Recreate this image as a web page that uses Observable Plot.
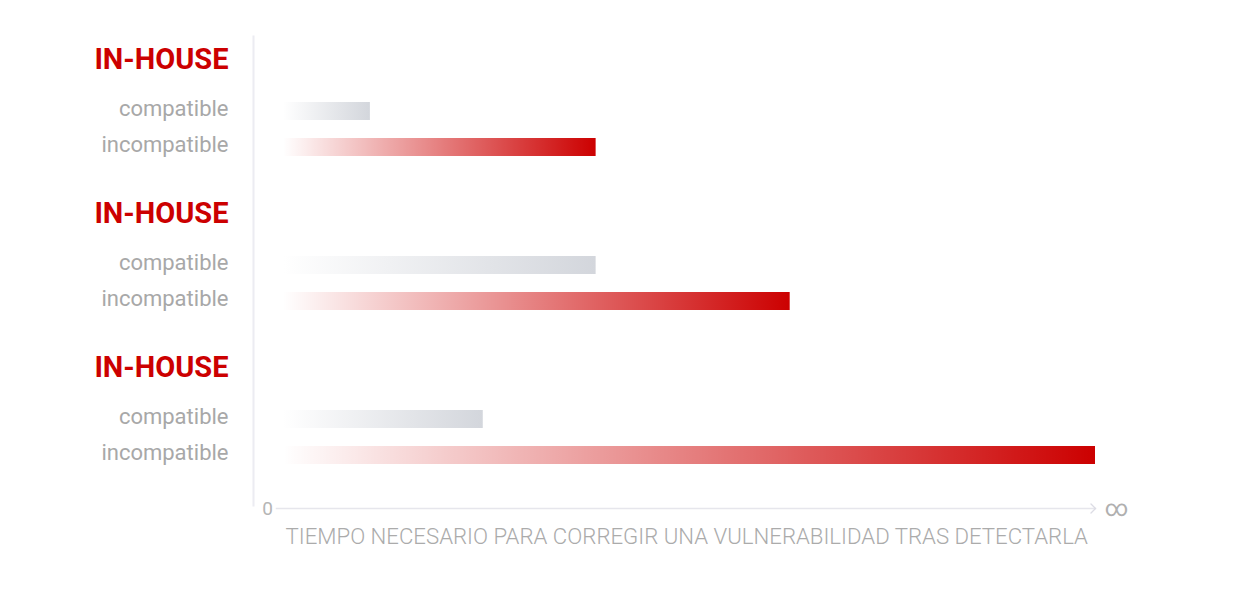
<!DOCTYPE html>
<html>
<head>
<meta charset="utf-8">
<script src="https://cdn.jsdelivr.net/npm/d3@7"></script>
<script src="https://cdn.jsdelivr.net/npm/@observablehq/plot@0.6"></script>
<style>
  html, body { margin: 0; padding: 0; background: #ffffff; }
  #chart svg { display: block; }
</style>
</head>
<body>
<div id="chart"></div>
<script>
// ---- data ----
const groupIds = ["g1", "g2", "g3"];
const groupLabels = ["IN-HOUSE", "IN-HOUSE", "IN-HOUSE"];
const rowTypes = ["compatible", "incompatible"];
const compatibleValues = [10.7, 38.5, 24.6];
const incompatibleValues = [38.5, 62.4, 100];
const xEndLabels = ["0", "∞"];
const xEndValues = [0, 100];
const axisTitle = "TIEMPO NECESARIO PARA CORREGIR UNA VULNERABILIDAD TRAS DETECTARLA";

// ---- tables ----
const groups = groupIds.map((id, i) => ({id, label: groupLabels[i]}));
const rows = [];
groupIds.forEach((g, i) => {
  rows.push({group: g, type: rowTypes[0], value: compatibleValues[i]});
  rows.push({group: g, type: rowTypes[1], value: incompatibleValues[i]});
});
const compatRows = rows.filter(d => d.type === rowTypes[0]);
const incompatRows = rows.filter(d => d.type === rowTypes[1]);
const lastGroup = groupIds[groupIds.length - 1];
const ends = xEndValues.map((v, i) => ({group: lastGroup, value: v, label: xEndLabels[i]}));

const chevron = {
  draw(context) {
    context.moveTo(-4.5, 4.5);
    context.lineTo(0, 0);
    context.lineTo(4.5, 4.5);
  }
};

const plot = Plot.plot({
  width: 1253,
  height: 611,
  marginLeft: 283,
  marginRight: 158,
  marginTop: 36,
  marginBottom: 103,
  style: {fontFamily: "Roboto, sans-serif", background: "#ffffff"},
  x: {domain: [0, 100], axis: null},
  fy: {domain: groupIds, range: [37, 499], padding: 0, axis: null},
  y: {domain: rowTypes, range: [91, 164.5], padding: 0, axis: null},
  marks: [
    // vertical separator line
    Plot.frame({anchor: "left", facet: "super", dx: -30, insetTop: -1, insetBottom: -6, stroke: "#ececf2", strokeWidth: 2}),
    // horizontal axis line
    Plot.frame({anchor: "bottom", facet: "super", dy: 9, insetLeft: -7, stroke: "#e6e6ec", strokeWidth: 1.5}),
    // arrow head (drawn in last facet, at the axis baseline)
    Plot.vector(ends.slice(1), {fy: "group", x: "value", frameAnchor: "bottom", dy: 9, shape: chevron, rotate: 90, anchor: "start", stroke: "#dcdce4", strokeWidth: 1.3}),
    // end labels
    Plot.text(ends.slice(0, 1), {fy: "group", x: "value", text: "label", frameAnchor: "bottom", dx: -16, dy: 9, lineAnchor: "middle", fill: "#b5b5b5", fontSize: 19}),
    Plot.text(ends.slice(1), {fy: "group", x: "value", text: "label", frameAnchor: "bottom", dx: 21, dy: 9, lineAnchor: "middle", fill: "#b0b0b0", fontSize: 23}),
    // axis title
    Plot.text([axisTitle], {text: d => d, frameAnchor: "bottom-left", facet: "super", dx: 2, dy: 37, textAnchor: "start", lineAnchor: "middle", fill: "#ababab", fontSize: 22.2, fontWeight: 300}),
    // group headers
    Plot.text(groups, {fy: "id", text: "label", frameAnchor: "top-left", dx: -55, dy: 22, textAnchor: "end", lineAnchor: "middle", fill: "#cc0000", fontSize: 29, fontWeight: 700}),
    // row labels
    Plot.text(rows, {fy: "group", y: "type", text: "type", frameAnchor: "left", dx: -55, dy: -2.5, textAnchor: "end", lineAnchor: "middle", fill: "#a8a8a8", fontSize: 22}),
    // bars
    Plot.barX(compatRows, {fy: "group", y: "type", x: "value", fill: "url(#gradCompat)", insetTop: 9, insetBottom: 9}),
    Plot.barX(incompatRows, {fy: "group", y: "type", x: "value", fill: "url(#gradIncompat)", insetTop: 9, insetBottom: 9})
  ]
});

const defs = d3.select(plot).insert("defs", ":first-child");
const gc = defs.append("linearGradient").attr("id", "gradCompat").attr("x1", 0).attr("x2", 1).attr("y1", 0).attr("y2", 0);
gc.append("stop").attr("offset", "0%").attr("stop-color", "#d3d6dc").attr("stop-opacity", 0);
gc.append("stop").attr("offset", "100%").attr("stop-color", "#d3d6dc").attr("stop-opacity", 1);
const gi = defs.append("linearGradient").attr("id", "gradIncompat").attr("x1", 0).attr("x2", 1).attr("y1", 0).attr("y2", 0);
gi.append("stop").attr("offset", "0%").attr("stop-color", "#cc0000").attr("stop-opacity", 0);
gi.append("stop").attr("offset", "100%").attr("stop-color", "#cc0000").attr("stop-opacity", 1);

document.getElementById("chart").appendChild(plot);
</script>
</body>
</html>
